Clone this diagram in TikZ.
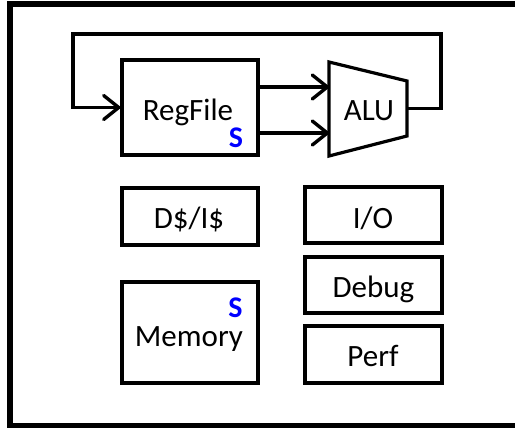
\documentclass[tikz,border=0pt]{standalone}
\usepackage{fontspec}
\setmainfont{Carlito}
\usetikzlibrary{arrows.meta}
\definecolor{sblue}{RGB}{0,0,255}
\tikzset{
  box/.style={draw, line width=3.2pt, inner sep=0pt, minimum width=#1},
  box/.default=136pt,
  lbl/.style={anchor=base, inner sep=0pt, font=\fontsize{31}{34}\selectfont},
  slbl/.style={anchor=base, inner sep=0pt, text=sblue, font=\fontsize{30}{33}\selectfont\bfseries},
  wire/.style={line width=3.2pt, -{Straight Barb[length=15pt, width=24pt, line width=3.4pt, round]}},
}
\begin{document}
\begin{tikzpicture}[x=1pt, y=-1pt]
\useasboundingbox (0,0) rectangle (515,428);
% outer frame (right side beyond the picture)
\draw[line width=6pt] (540,4) -- (10,4) -- (10,425.5) -- (540,425.5);
% boxes
\node[box, minimum height=95pt] (regfile) at (190,107.5) {};
\node[box, minimum height=57pt] (cache) at (190,216.5) {};
\node[box, minimum height=101pt] (memory) at (190,332.5) {};
\node[box=137pt, minimum height=56pt] (io) at (373.5,215) {};
\node[box=137pt, minimum height=56pt] (debug) at (373.5,285) {};
\node[box=137pt, minimum height=57pt] (perf) at (373.5,354.5) {};
% ALU trapezoid
\coordinate (alutl) at (329,62);
\coordinate (alubl) at (329,156);
\coordinate (alutr) at (407,81);
\coordinate (alubr) at (407,136);
\draw[line width=3.2pt, line join=miter] (alutl) -- (alutr) -- (alubr) -- (alubl) -- cycle;
\coordinate (aluin1) at (329,87);
\coordinate (aluin2) at (329,133);
\coordinate (aluout) at (407,108.5);
% labels
\node[lbl] (regfiletxt) at (188,121) {RegFile};
\node[slbl] (regfiles) at (236,148) {S};
\node[lbl] (alutxt) at (369,121) {ALU};
\node[lbl] (cachetxt) at (189,228) {D\$/I\$};
\node[lbl] (memorytxt) at (189,346) {Memory};
\node[slbl] (memorys) at (235.5,317) {S};
\node[lbl] (iotxt) at (373,228) {I/O};
\node[lbl] (debugtxt) at (373.5,297) {Debug};
\node[lbl] (perftxt) at (373,366) {Perf};
% connectors
\draw[wire] (regfile.east |- aluin1) -- (aluin1);
\draw[wire] (regfile.east |- aluin2) -- (aluin2);
\coordinate (fbr) at (441,34);
\coordinate (fbl) at (73,34);
\draw[wire, line join=miter] (aluout) -- (fbr |- aluout) -- (fbr) -- (fbl) -- (fbl |- regfile.west) -- (regfile.west);
\end{tikzpicture}
\end{document}
